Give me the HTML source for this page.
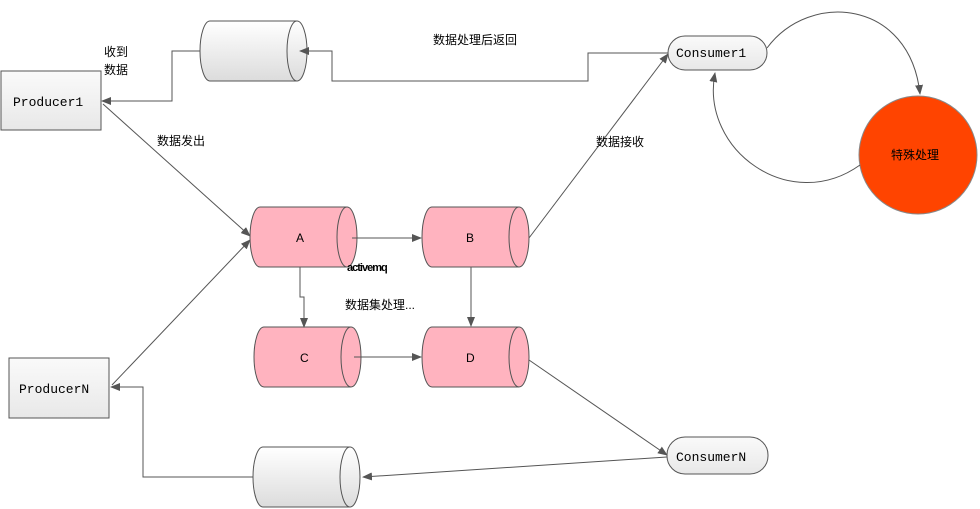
<!DOCTYPE html>
<html><head><meta charset="utf-8"><style>
html,body{margin:0;padding:0;background:#fff;width:980px;height:509px;overflow:hidden}
text{font-family:"Liberation Sans","Noto Sans CJK SC",sans-serif;font-size:12px;fill:#000}
.m{font-family:"Liberation Mono","Noto Sans CJK SC",monospace;font-size:13px}
</style></head><body>
<svg width="980" height="509" viewBox="0 0 980 509" xmlns="http://www.w3.org/2000/svg">
<defs>
<marker id="ar" markerWidth="10" markerHeight="8" refX="9" refY="4" orient="auto" markerUnits="userSpaceOnUse"><path d="M0,0 L10,4 L0,8 Z" fill="#555"/></marker>
<linearGradient id="g" x1="0" y1="0" x2="0" y2="1"><stop offset="0" stop-color="#fff"/><stop offset="1" stop-color="#dcdcdc"/></linearGradient>
<linearGradient id="gb" x1="0" y1="0" x2="0" y2="1"><stop offset="0" stop-color="#fafafa"/><stop offset="1" stop-color="#e8e8e8"/></linearGradient>
</defs>
<g stroke="#555" fill="none" stroke-width="1">
<g fill="url(#g)">
<path d="M210,21 L297,21 A10,30 0 0 1 297,81 L210,81 A10,30 0 0 1 210,21 Z"/><path d="M297,21 A10,30 0 0 0 297,81"/>
<path d="M263,447 L350,447 A10,30 0 0 1 350,507 L263,507 A10,30 0 0 1 263,447 Z"/><path d="M350,447 A10,30 0 0 0 350,507"/>
</g>
<g fill="#ffb3bf">
<path d="M260,207 L347,207 A10,30 0 0 1 347,267 L260,267 A10,30 0 0 1 260,207 Z"/><path d="M347,207 A10,30 0 0 0 347,267"/>
<path d="M432,207 L519,207 A10,30 0 0 1 519,267 L432,267 A10,30 0 0 1 432,207 Z"/><path d="M519,207 A10,30 0 0 0 519,267"/>
<path d="M264,327 L351,327 A10,30 0 0 1 351,387 L264,387 A10,30 0 0 1 264,327 Z"/><path d="M351,327 A10,30 0 0 0 351,387"/>
<path d="M432,327 L519,327 A10,30 0 0 1 519,387 L432,387 A10,30 0 0 1 432,327 Z"/><path d="M519,327 A10,30 0 0 0 519,387"/>
</g>
<rect x="1" y="71" width="100" height="59" fill="url(#gb)"/>
<rect x="9" y="358" width="100" height="60" fill="url(#gb)"/>
<rect x="668" y="36" width="99" height="34" rx="17" fill="url(#gb)"/>
<rect x="667" y="437" width="101" height="37" rx="18" fill="url(#gb)"/>
<circle cx="918" cy="155" r="59" fill="#ff4400" stroke="#888"/>
<polyline points="668,53 588,53 588,81 332,81 332,51 300,51" marker-end="url(#ar)"/>
<polyline points="200,51 172,51 172,101 102,101" marker-end="url(#ar)"/>
<line x1="103" y1="104" x2="250" y2="236" marker-end="url(#ar)"/>
<line x1="112" y1="385" x2="250" y2="240" marker-end="url(#ar)"/>
<polyline points="253,477 143,477 143,387 111,387" marker-end="url(#ar)"/>
<line x1="352" y1="238" x2="421" y2="238" marker-end="url(#ar)"/>
<polyline points="300,267 300,297 304,297 304,327" marker-end="url(#ar)"/>
<line x1="471" y1="267" x2="471" y2="326" marker-end="url(#ar)"/>
<line x1="354" y1="357" x2="421" y2="357" marker-end="url(#ar)"/>
<line x1="529" y1="238" x2="668" y2="54" marker-end="url(#ar)"/>
<line x1="529" y1="360" x2="667" y2="455" marker-end="url(#ar)"/>
<line x1="667" y1="457" x2="363" y2="477" marker-end="url(#ar)"/>
<path d="M767,48 C810,-10 910,0 920,94" marker-end="url(#ar)"/>
<path d="M860,165 C790,215 700,150 715,73" marker-end="url(#ar)"/>
</g>
<text x="104" y="56">收到</text><text x="104" y="74">数据</text>
<text class="m" x="13" y="106">Producer1</text>
<text class="m" x="19" y="393">ProducerN</text>
<text class="m" x="676" y="57">Consumer1</text>
<text class="m" x="676" y="461">ConsumerN</text>
<text x="157" y="145">数据发出</text>
<text x="433" y="44">数据处理后返回</text>
<text x="596" y="146">数据接收</text>
<text x="296" y="242">A</text><text x="466" y="242">B</text>
<text x="300" y="362">C</text><text x="466" y="362">D</text>
<text x="347" y="271" style="font-weight:bold;font-size:11px;letter-spacing:-1px">activemq</text>
<text x="345" y="309">数据集处理...</text>
<text x="891" y="159">特殊处理</text>
</svg>
</body></html>
